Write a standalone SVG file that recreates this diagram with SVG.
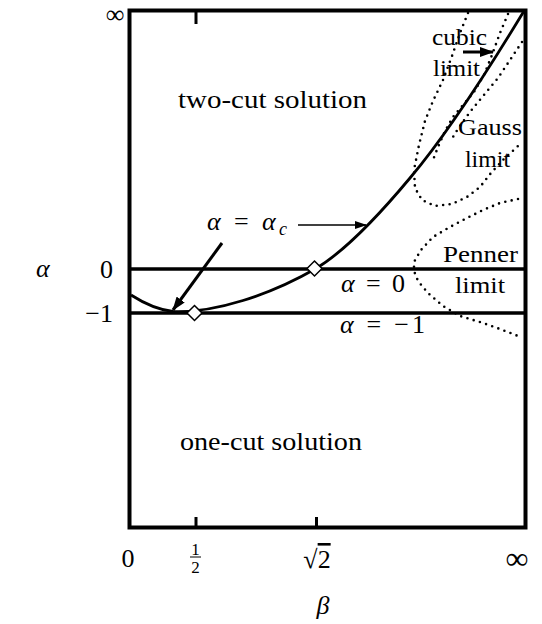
<svg xmlns="http://www.w3.org/2000/svg" width="542" height="624" viewBox="0 0 542 624">
<style>
text{font-family:'Liberation Serif','Times New Roman',serif;fill:#000}
.big{font-size:26px}
.lab{font-size:24px}
.it{font-style:italic}
.frame{fill:none;stroke:#000;stroke-width:4}
.tick{stroke:#000;stroke-width:3}
.hline{stroke:#000;stroke-width:3.5}
.solid{fill:none;stroke:#000;stroke-width:2.8;stroke-linejoin:round}
.dot{fill:none;stroke:#000;stroke-width:2.6;stroke-linecap:round;stroke-dasharray:0 6.5}
.diam{fill:#fff;stroke:#000;stroke-width:1.5}
</style>
<defs>
<marker id="ah" viewBox="0 0 12 8" refX="11" refY="4" markerWidth="12" markerHeight="8" markerUnits="userSpaceOnUse" orient="auto"><path d="M0,0 L12,4 L0,8 z" fill="#000"/></marker>
<marker id="ahb" viewBox="0 0 14 10" refX="13" refY="5" markerWidth="14" markerHeight="10" markerUnits="userSpaceOnUse" orient="auto"><path d="M0,0 L14,5 L0,10 z" fill="#000"/></marker>
</defs>
<g id="frame">
<rect class="frame" x="129.5" y="10.5" width="396" height="517"/>
<line class="tick" x1="196" y1="517" x2="196" y2="527"/>
<line class="tick" x1="316.5" y1="517" x2="316.5" y2="527"/>
<line class="tick" x1="196" y1="12" x2="196" y2="24"/>
</g>
<g id="levels">
<line class="hline" x1="129" y1="269" x2="526" y2="269"/>
<line class="hline" x1="129" y1="313" x2="526" y2="313"/>
</g>
<g id="curves">
<path id="alpha-c" class="solid" d="M131,295 C145,304 160,310 173,311.5 C215,313 270,295 316,268.5 C350,248 385,208 410,178 C432,152 470,100 524,11"/>
<path id="gauss-loop" class="dot" d="M468,13 L460,33 L452,56 L443,80 L433,101 L425,121 L419,145 L414,170 L415,188 L422,200 L435,206 L452,204 L467,197 L480,187 L491,173 L503,160 L518,146"/>
<path id="cubic-inner" class="dot" d="M508,14 L500,33 L492,55 L484,75 L474,92 L463,105 L453,117 L445,131 L438,147 L433,160"/>
<path id="cubic-outer" class="dot" d="M522,42 L514,54 L506,66 L498,78 L488,90 L479,101 L470,112 L462,123 L456,132 L450,142"/>
<path id="penner" class="dot" d="M518,199 L500,203 L483,210 L467,218 L450,227 L433,237 L421,250 L414,262 L414,271 L418,281 L428,293 L443,306 L460,316 L483,323 L500,329 L518,336"/>
</g>
<g id="n-half"><path class="diam" d="M194.5,305.5 L202,313 L194.5,320.5 L187,313 z"/></g>
<g id="n-sqrt2"><path class="diam" d="M314.5,261 L322,268.5 L314.5,276 L307,268.5 z"/></g>
<g id="connectors">
<line x1="298" y1="225" x2="366" y2="225" stroke="#000" stroke-width="1.5" marker-end="url(#ah)"/>
<line x1="222" y1="243" x2="173" y2="310" stroke="#000" stroke-width="3" marker-end="url(#ahb)"/>
<line x1="463" y1="52" x2="493" y2="52" stroke="#000" stroke-width="3" marker-end="url(#ahb)"/>
</g>
<g id="labels">
<text class="big" x="178" y="108" textLength="189" lengthAdjust="spacingAndGlyphs">two-cut solution</text>
<text class="big" x="180" y="450" textLength="182" lengthAdjust="spacingAndGlyphs">one-cut solution</text>
<text class="big" x="207" y="230" textLength="80" lengthAdjust="spacing"><tspan class="it">α</tspan> = <tspan class="it">α</tspan><tspan class="it" font-size="18" dy="5">c</tspan></text>
<text class="big" x="341" y="292" textLength="64" lengthAdjust="spacing"><tspan class="it">α</tspan> = 0</text>
<text class="big" x="340" y="333" textLength="85" lengthAdjust="spacing"><tspan class="it">α</tspan> = −1</text>
<text class="lab" x="432" y="45" textLength="55" lengthAdjust="spacingAndGlyphs">cubic</text>
<text class="lab" x="433" y="76" textLength="47" lengthAdjust="spacingAndGlyphs">limit</text>
<text class="lab" x="458" y="135" textLength="64" lengthAdjust="spacingAndGlyphs">Gauss</text>
<text class="lab" x="465" y="167" textLength="45" lengthAdjust="spacingAndGlyphs">limit</text>
<text class="lab" x="443" y="262" textLength="75" lengthAdjust="spacingAndGlyphs">Penner</text>
<text class="lab" x="455" y="293" textLength="50" lengthAdjust="spacingAndGlyphs">limit</text>
<text class="big" x="115" y="23" text-anchor="middle">∞</text>
<text class="big it" x="36" y="277">α</text>
<text class="big" x="113" y="278" text-anchor="end">0</text>
<text class="big" x="113" y="322" text-anchor="end">−1</text>
<text class="big" x="128" y="567" text-anchor="middle">0</text>
<text x="195.5" y="555" font-size="17" text-anchor="middle">1</text>
<line x1="190" y1="557" x2="201" y2="557" stroke="#000" stroke-width="1"/>
<text x="195.5" y="573" font-size="17" text-anchor="middle">2</text>
<text class="big" x="317" y="568" text-anchor="middle">√<tspan text-decoration="overline">2</tspan></text>
<text x="517" y="569" font-size="32" text-anchor="middle">∞</text>
<text class="big it" x="323" y="614" text-anchor="middle">β</text>
</g>
</svg>
